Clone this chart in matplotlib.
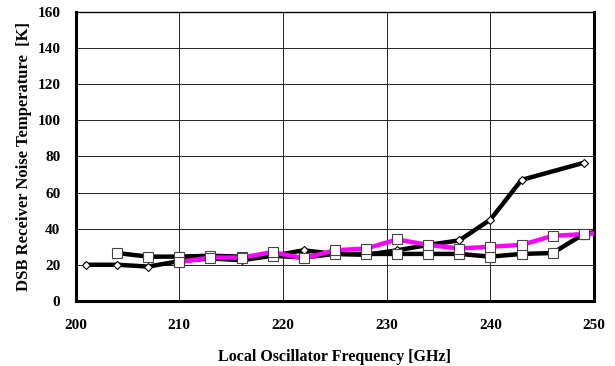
import numpy as np
import matplotlib.pyplot as plt

plt.rcParams['font.family'] = ['Liberation Serif', 'DejaVu Serif']
plt.rcParams['font.weight'] = 'bold'

# Series 1: black line, diamond markers
f1 = [201, 204, 207, 210, 213, 216, 219, 222, 225, 228, 231, 234, 237, 240, 243, 249]
t1 = [20, 20, 19, 22, 23.5, 22.5, 25, 28, 26, 25.5, 28, 31, 33.5, 45, 67, 76.5]

# Series 2: black line, square markers
f2 = [204, 207, 210, 213, 216, 219, 222, 225, 228, 231, 234, 237, 240, 243, 246, 249, 252]
t2 = [26.5, 24.5, 24.5, 25, 24.5, 25, 24, 26, 26, 26, 26, 26, 24.5, 26, 26.5, 37, 40]

# Series 3: magenta line, square markers
f3 = [210, 213, 216, 219, 222, 225, 228, 231, 234, 237, 240, 243, 246, 249, 252]
t3 = [21.5, 24, 24, 27, 23.5, 28, 29, 34, 31, 29, 30, 31, 36, 37, 38]

fig = plt.figure(figsize=(6.15, 3.66), dpi=100)
ax = fig.add_axes([0.123, 0.178, 0.843, 0.789])

ax.plot(f1, t1, color='black', lw=3.2, marker='D', ms=4.5,
        mfc='white', mec='black', mew=0.8, zorder=3)
ax.plot(f2, t2, color='black', lw=3.2, marker='s', ms=7,
        mfc='white', mec='#444444', mew=0.8, zorder=4)
ax.plot(f3, t3, color='#ff00ff', lw=3.2, marker='s', ms=7,
        mfc='white', mec='#444444', mew=0.8, zorder=5)

ax.set_xlim(200, 250)
ax.set_ylim(0, 160)
ax.set_xticks(np.arange(200, 251, 10))
ax.set_yticks(np.arange(0, 161, 20))
ax.grid(True, color='#222222', lw=0.7)
ax.set_axisbelow(True)

for side in ['left', 'bottom', 'right']:
    ax.spines[side].set_linewidth(2.2)
ax.spines['top'].set_linewidth(1.0)

ax.tick_params(labelsize=11, length=0, width=1)
ax.tick_params(axis='y', pad=11)
ax.tick_params(axis='x', pad=13)
for lbl in ax.get_xticklabels() + ax.get_yticklabels():
    lbl.set_fontweight('bold')

ax.set_xlabel('Local Oscillator Frequency [GHz]', fontsize=11.5, fontweight='bold', labelpad=12)
ax.set_ylabel('DSB Receiver Noise Temperature  [K]', fontsize=12, fontweight='bold', labelpad=4)

fig.savefig('out.png', dpi=100)
